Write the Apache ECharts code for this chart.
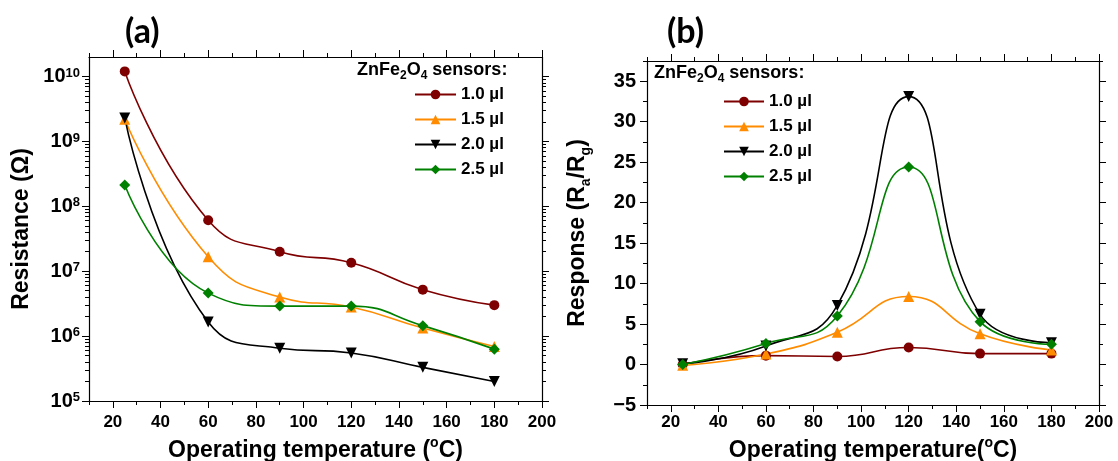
<!DOCTYPE html>
<html>
<head>
<meta charset="utf-8">
<title></title>
<script src="https://cdn.jsdelivr.net/npm/echarts@6/dist/echarts.min.js"></script>
<style>
    body { margin: 0; background: #fff; }
    #chart_box { width: 1118px; height: 461px; }
</style>
</head>
<body>
<div id="chart_box"></div>
<script>
    // x categories (operating temperature, °C)
    var temps = [25, 60, 90, 120, 150, 180];
    var names = ['1.0 µl', '1.5 µl', '2.0 µl', '2.5 µl'];

    // (a) resistance, ohm
    var resA = [1.2e10, 6.1e7, 2.0e7, 1.35e7, 5.2e6, 3.0e6];
    var resB = [2.2e9, 1.67e7, 4.0e6, 2.8e6, 1.33e6, 6.9e5];
    var resC = [2.3e9, 1.65e6, 6.5e5, 5.5e5, 3.3e5, 2.0e5];
    var resD = [2.13e8, 4.6e6, 2.9e6, 2.9e6, 1.45e6, 6.3e5];

    // (b) response Ra/Rg
    var rspA = [0, 1.1, 1.0, 2.1, 1.35, 1.35];
    var rspB = [-0.1, 1.3, 4.0, 8.4, 3.8, 1.8];
    var rspC = [0.1, 2.3, 7.3, 33.1, 6.2, 2.7];
    var rspD = [0, 2.6, 6.0, 24.4, 5.3, 2.5];

    // ticks
    var xTicks = [20, 40, 60, 80, 100, 120, 140, 160, 180, 200];
    var xMinor = [10, 30, 50, 70, 90, 110, 130, 150, 170, 190];
    var logExp = [5, 6, 7, 8, 9, 10];          // 10^5 .. 10^10
    var rspTicks = [-5, 0, 5, 10, 15, 20, 25, 30, 35];
    var rspMinor = [-2.5, 2.5, 7.5, 12.5, 17.5, 22.5, 27.5, 32.5, 37.5];

    var colors = ['#7f0000', '#ff8c00', '#000000', '#008000'];
    var symbols = ['circle', 'triangle', 'triangle', 'diamond'];
    var rotates = [0, 0, 180, 0];
    var sizes = [10, 11, 11, 11];

    var ft = 'Liberation Sans';
    var logMax = 2e10;
    var logMaxExp = Math.log10(logMax);

    // minor ticks of log axis, in exponent space
    var logMinor = [];
    logExp.forEach(function (e) {
        for (var k = 2; k <= 9; k++) {
            var v = e + Math.log10(k);
            if (v < logMaxExp) logMinor.push(v);
        }
    });

    var subRich = {
        sup: { fontSize: 14, lineHeight: 14, fontWeight: 'bold', fontFamily: ft, color: '#000', verticalAlign: 'top' },
        sub: { fontSize: 14, lineHeight: 16, fontWeight: 'bold', fontFamily: ft, color: '#000', verticalAlign: 'bottom' }
    };
    var nameStyle = { color: '#000', fontSize: 23, lineHeight: 30, fontWeight: 'bold', fontFamily: ft, rich: subRich };

    // tick-only axis (frame side + ticks)
    function deco(g, pos, min, max, vals, len, showLine) {
        return {
            gridIndex: g, type: 'value', position: pos, min: min, max: max,
            splitLine: { show: false },
            axisLine: { show: showLine, onZero: false, lineStyle: { color: '#000', width: 1.2 } },
            axisTick: { show: true, customValues: vals, length: len, lineStyle: { color: '#000', width: 1 } },
            axisLabel: { show: false }
        };
    }

    function xAxes(g, title, gap, margin) {
        var main = deco(g, 'bottom', 10, 200, xTicks, 7, true);
        main.name = title;
        main.nameLocation = 'middle';
        main.nameGap = gap;
        main.nameTextStyle = nameStyle;
        main.axisLabel = {
            show: true, customValues: xTicks, margin: margin, color: '#000',
            fontSize: 17, fontWeight: 'bold', fontFamily: ft
        };
        return [main,
            deco(g, 'bottom', 10, 200, xMinor, 4, false),
            deco(g, 'top', 10, 200, xTicks, 7, true),
            deco(g, 'top', 10, 200, xMinor, 4, false)];
    }

    var xAxis = xAxes(0, 'Operating temperature ({sup|o}C)', 31, 13)
        .concat(xAxes(1, 'Operating temperature({sup|o}C)', 26, 9));

    // (a) y: hidden log axis for data + exponent-space axes for ticks/labels
    var yLogMain = deco(0, 'left', 5, logMaxExp, logExp, 7, true);
    yLogMain.name = 'Resistance (Ω)';
    yLogMain.nameLocation = 'middle';
    yLogMain.nameGap = 52;
    yLogMain.nameTextStyle = nameStyle;
    yLogMain.axisLabel = {
        show: true, customValues: logExp, margin: 9, color: '#000',
        fontSize: 20, fontWeight: 'bold', fontFamily: ft,
        formatter: function (v) { return '10{p|' + Math.round(v) + '}'; },
        rich: { p: { fontSize: 13, fontWeight: 'bold', fontFamily: ft, color: '#000', verticalAlign: 'top', padding: [0, 0, 6, 0] } }
    };

    var yRspMain = deco(1, 'left', -5, 37.5, rspTicks, 7, true);
    yRspMain.name = 'Response (R{sub|a}/R{sub|g})';
    yRspMain.nameLocation = 'middle';
    yRspMain.nameGap = 54;
    yRspMain.nameTextStyle = nameStyle;
    yRspMain.axisLabel = {
        show: true, customValues: rspTicks, margin: 11, color: '#000',
        fontSize: 20, fontWeight: 'bold', fontFamily: ft,
        formatter: function (v) { return v < 0 ? '\u2212' + (-v) : String(v); }
    };

    var yAxis = [
        { gridIndex: 0, type: 'log', logBase: 10, min: 1e5, max: logMax, show: false },
        yLogMain,
        deco(0, 'left', 5, logMaxExp, logMinor, 4, false),
        deco(0, 'right', 5, logMaxExp, logExp, 7, true),
        deco(0, 'right', 5, logMaxExp, logMinor, 4, false),
        yRspMain,
        deco(1, 'left', -5, 37.5, rspMinor, 4, false),
        deco(1, 'right', -5, 37.5, rspTicks, 7, true),
        deco(1, 'right', -5, 37.5, rspMinor, 4, false)
    ];

    function pairs(vals) {
        return temps.map(function (t, i) { return [t, vals[i]]; });
    }

    function mkSeries(i, vals, xi, yi) {
        return {
            name: names[i], type: 'line', smooth: 0.5,
            xAxisIndex: xi, yAxisIndex: yi,
            data: pairs(vals),
            symbol: symbols[i], symbolRotate: rotates[i], symbolSize: sizes[i],
            showAllSymbol: true,
            lineStyle: { color: colors[i], width: 1.6 },
            itemStyle: { color: colors[i] },
            emphasis: { disabled: true }
        };
    }

    var seriesA = [resA, resB, resC, resD].map(function (v, i) { return mkSeries(i, v, 0, 0); });
    var seriesB = [rspA, rspB, rspC, rspD].map(function (v, i) { return mkSeries(i, v, 4, 5); });

    var legendText = { fontSize: 17, fontWeight: 'bold', fontFamily: ft, color: '#000' };
    var headStyle = {
        fontSize: 18, lineHeight: 24, fontWeight: 'bold', fontFamily: ft, color: '#000',
        rich: { sub: { fontSize: 12, lineHeight: 12, fontWeight: 'bold', fontFamily: ft, color: '#000', verticalAlign: 'bottom' } }
    };
    var panelStyle = { fontSize: 34, fontWeight: 'bold', fontFamily: 'Lato', color: '#000' };

    var myChart = echarts.init(document.getElementById('chart_box'));
    myChart.setOption({
        animation: false,
        backgroundColor: '#fff',
        title: [
            { text: '(a)', left: 125, top: 15, padding: 0, textStyle: panelStyle },
            { text: '(b)', left: 667, top: 15, padding: 0, textStyle: panelStyle },
            { text: 'ZnFe{sub|2}O{sub|4} sensors:', left: 357, top: 58, padding: 0, textStyle: headStyle },
            { text: 'ZnFe{sub|2}O{sub|4} sensors:', left: 654, top: 61, padding: 0, textStyle: headStyle }
        ],
        legend: [
            { data: names, orient: 'vertical', left: 414, top: 86, itemWidth: 41, itemHeight: 12, itemGap: 8,
              padding: 0, selectedMode: false, textStyle: legendText },
            { data: names, orient: 'vertical', left: 723, top: 93, itemWidth: 40, itemHeight: 12, itemGap: 8,
              padding: 0, selectedMode: false, textStyle: legendText }
        ],
        grid: [
            { left: 89, top: 57, width: 453, height: 344, outerBoundsMode: 'none' },
            { left: 647, top: 61, width: 452, height: 344, outerBoundsMode: 'none' }
        ],
        xAxis: xAxis,
        yAxis: yAxis,
        series: seriesA.concat(seriesB)
    });
</script>
</body>
</html>
